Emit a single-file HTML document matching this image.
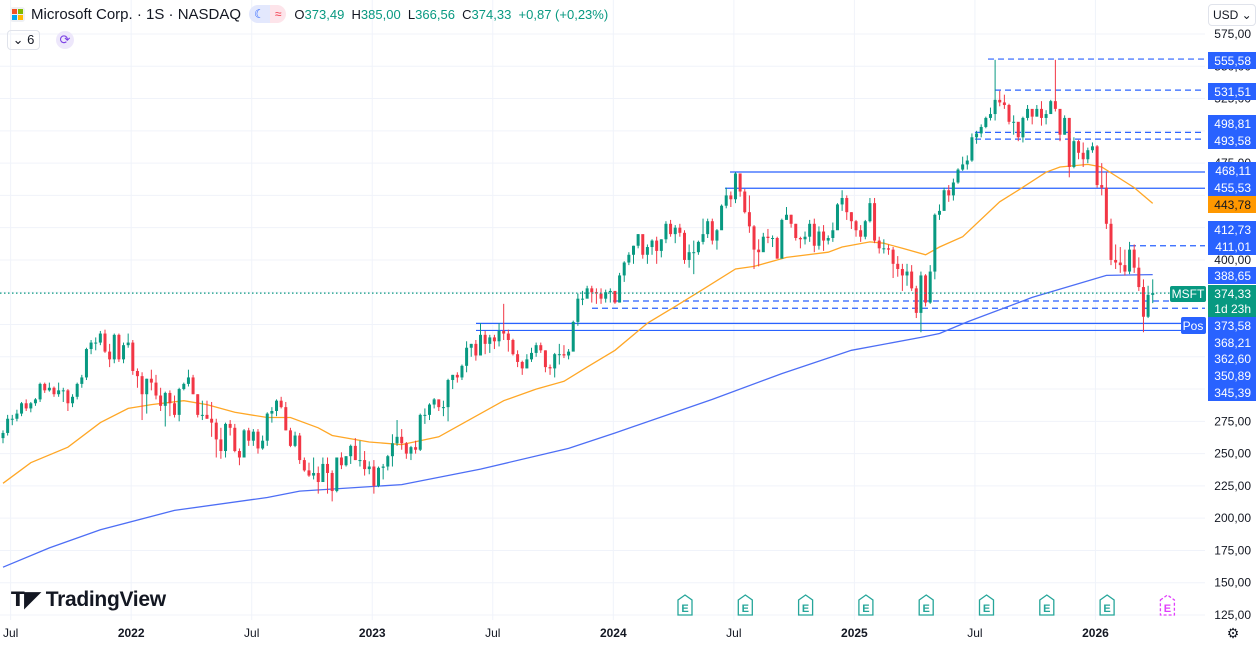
<!DOCTYPE html>
<html><head><meta charset="utf-8">
<style>
html,body{margin:0;padding:0;background:#fff;width:1260px;height:645px;overflow:hidden;font-family:"Liberation Sans",sans-serif;}
#wrap{position:relative;width:1260px;height:645px;}
svg{position:absolute;left:0;top:0;}
.hdr{position:absolute;left:10px;top:5px;font-size:14px;color:#131722;display:flex;align-items:center;white-space:nowrap;}
.ohlc{font-size:13px;margin-left:8px;color:#131722}
.ohlc b{font-weight:normal;color:#089981}
</style></head><body>
<div id="wrap">
<svg id="chart" width="1260" height="645"></svg>
<div class="hdr">
  <span style="display:inline-grid;grid-template-columns:5px 5px;gap:1px;background:#eef0f4;padding:2px;border-radius:3px;margin-right:6px"><i style="width:5px;height:5px;background:#f25022"></i><i style="width:5px;height:5px;background:#7fba00"></i><i style="width:5px;height:5px;background:#00a4ef"></i><i style="width:5px;height:5px;background:#ffb900"></i></span>
  <span style="font-size:15px">Microsoft Corp. · 1S · NASDAQ</span>
  <span style="margin-left:8px;display:inline-flex;border-radius:9px;overflow:hidden;height:18px;font-size:12px"><span style="background:#e3e8fd;color:#2962ff;padding:0 5px;line-height:18px">☾</span><span style="background:#fde4ea;color:#f23645;padding:0 5px;line-height:18px">≈</span></span>
  <span class="ohlc">O<b>373,49</b>&nbsp; H<b>385,00</b>&nbsp; L<b>366,56</b>&nbsp; C<b>374,33</b>&nbsp; <b>+0,87 (+0,23%)</b></span>
</div>
<div style="position:absolute;left:7px;top:30px;width:31px;height:18px;border:1px solid #e0e3eb;border-radius:4px;font-size:13px;line-height:18px;text-align:center;color:#131722">⌄ 6</div>
<div style="position:absolute;left:56px;top:31px;width:18px;height:18px;border-radius:9px;background:#ede7fb;color:#7b3fe4;font-size:13px;line-height:18px;text-align:center">⟳</div>
<div style="position:absolute;left:1208px;top:4px;width:42px;height:20px;border:1px solid #e0e3eb;border-radius:4px;font-size:12px;line-height:20px;color:#131722;padding-left:4px;background:#fff">USD ⌄</div>
<div style="position:absolute;left:11px;top:587px;font-size:21px;font-weight:bold;color:#131722;letter-spacing:-0.3px"><span style="font-size:20px">𝗧</span>◤ TradingView</div>
</div>
<script>
const C=[266,277,277,281,289,285,289,292,304,299,301,296,299,299,289,294,304,309,331,336,336,343,329,323,342,323,334,336,
314,310,296,308,305,295,287,297,289,280,300,304,309,296,280,280,277,274,261,252,273,270,252,247,268,260,267,254,260,281,283,291,286,268,256,264,245,237,233,235,228,242,235,221,247,241,248,256,245,245,238,240,
225,239,240,248,258,263,258,250,255,253,280,280,288,292,286,286,307,311,309,318,332,335,326,342,335,340,337,345,343,338,327,321,316,323,328,334,330,317,316,327,327,326,329,352,370,370,378,375,374,370,375,376,
367,388,398,404,411,420,404,410,415,407,416,428,420,425,421,400,406,406,414,420,430,415,423,442,450,447,467,453,437,426,408,406,418,417,417,401,431,435,428,417,416,418,428,411,422,415,417,423,443,448,437,430,
423,418,430,444,415,409,409,408,397,393,388,391,378,359,388,367,391,435,438,454,450,460,470,474,477,495,498,503,510,513,524,522,520,507,507,495,510,517,511,517,510,513,523,517,497,510,472,492,483,478,485,488,
458,456,428,400,398,396,391,408,394,379,356,373,374.33];
const H=[268,280,280,284,290,292,290,293,305,305,305,302,305,301,300,296,305,311,332,338,340,345,346,335,343,343,336,343,
338,316,313,308,315,311,301,298,299,295,301,305,315,311,296,291,291,290,277,270,274,276,273,254,269,270,269,269,264,282,286,292,294,290,270,267,266,247,243,247,240,247,247,237,247,251,248,257,262,260,252,244,
245,240,242,249,265,276,269,259,256,260,281,285,289,293,292,291,308,311,313,319,337,335,338,351,345,342,342,351,366,346,339,330,322,327,332,336,336,330,319,328,335,334,331,353,374,376,380,380,378,378,377,378,
376,390,399,406,411,420,416,412,416,418,416,430,431,427,428,423,412,415,415,432,432,432,424,443,456,453,468,467,455,450,427,416,421,424,419,418,432,441,435,428,418,422,431,432,426,427,419,429,444,454,450,437,
431,427,431,448,448,418,416,412,410,403,397,397,396,380,391,389,396,436,443,456,458,463,471,480,481,498,500,505,511,518,555,531,528,521,512,500,511,520,513,520,523,516,524,555,514,512,510,495,493,491,487,491,
489,475,468,432,412,410,408,414,412,402,385,380,385];
const L=[258,264,272,275,279,283,282,287,290,297,298,294,294,290,283,286,292,301,307,327,330,334,328,317,320,321,320,332,
311,301,276,281,299,292,283,271,279,278,275,299,302,296,278,276,277,263,247,246,247,264,251,241,247,256,256,250,253,256,274,279,285,268,255,255,242,236,232,230,219,228,219,213,220,238,240,242,245,240,233,234,
219,224,230,237,240,256,253,246,245,250,252,273,276,285,283,279,275,300,305,307,313,325,322,326,327,328,331,333,338,329,326,317,311,316,321,325,328,313,311,309,319,324,323,330,349,365,371,367,366,366,367,367,
366,367,383,396,397,409,401,397,404,397,402,413,418,413,418,397,394,389,404,412,417,412,408,425,440,441,444,449,436,421,393,395,410,413,410,401,403,432,425,415,409,412,414,406,408,407,412,414,426,438,431,424,
418,414,416,429,413,405,405,404,386,387,376,380,376,355,344,364,366,385,431,439,445,446,459,469,470,476,490,495,502,508,508,519,517,505,497,492,491,508,505,511,504,505,515,515,492,497,464,471,478,472,475,483,
456,450,424,396,393,390,388,389,390,376,344,355,366.56];
const firstOpen=262;
const maSlowIdx=[0,6,14,21,27,32,39,44,50,57,62,68,71,79,86,94,100,108,115,121,126,132,139,145,150,158,162,169,178,181,187,190,194,199,202,207,215,219,225,228,234,237,244,248];
const maSlowVal=[227,243,255,274,285,288,291,288,282,278,278,270,264,259,257,263,275,291,300,306,317,330,351,364,375,393,395,402,406,410,414,413,409,404,410,418,445,454,468,472,474,472,456,443.78];
const ma200Idx=[0,10,21,37,57,64,86,103,122,132,153,168,183,198,202,208,222,238,248];
const ma200Val=[162,177,191,206,216,221,226,238,254,266,292,312,330,340,343,352,371,388,388.65];
const axisTicks=[125,150,175,200,225,250,275,300,325,350,375,400,425,450,475,500,525,550,575];
const timeLabels=["Jul","2022","Jul","2023","Jul","2024","Jul","2025","Jul","2026"];
const timeIdx=[1,27,53,79,105,131,157,183,209,235];
const earnIdx=[146,160,173,186,199,212,225,238,251];

const svg=document.getElementById('chart');const NS='http://www.w3.org/2000/svg';
const yS=p=>615-(p-125)*1.2911;
const xS=i=>3+i*4.636;
function mk(t,a,parent){const e=document.createElementNS(NS,t);for(const k in a)e.setAttribute(k,a[k]);(parent||svg).appendChild(e);return e;}
// grid
axisTicks.forEach(v=>{const g=mk('line',{x1:0,x2:1205,y1:yS(v),y2:yS(v),stroke:'#f0f3fa'});

});
timeIdx.forEach(i=>{const g=mk('line',{x1:xS(i)+3,x2:xS(i)+3,y1:0,y2:620,stroke:'#f0f3fa'});

});
// level lines
const lv=[[555.58,988,1,'#2962ff'],[531.51,995,1,'#2962ff'],[498.81,975,1,'#2962ff'],[493.58,975,1,'#2962ff'],[411.01,1130,1,'#2962ff'],[368.21,613,1,'#2962ff'],[362.60,592,1,'#2962ff'],[468.11,730,0,'#2962ff'],[455.53,725,0,'#2962ff'],[350.89,476,0,'#2962ff'],[345.39,476,0,'#2962ff']];
lv.forEach(([p,x,d,c])=>{const l=mk('line',{x1:x,x2:1205,y1:yS(p),y2:yS(p),stroke:c,'stroke-width':1.2,'stroke-dasharray':d?'6 4':'none'});

});
// MAs
function path(idx,val,color,name){let d='';idx.forEach((i,k)=>{d+=(k?'L':'M')+xS(i).toFixed(1)+' '+yS(val[k]).toFixed(1);});
const p=mk('path',{d:d,fill:'none',stroke:color,'stroke-width':1.3});

}
path(ma200Idx,ma200Val,'#4d6ef5','ma-200-line');
path(maSlowIdx,maSlowVal,'#ffa726','ma-50-line');
// candles
C.forEach((c,i)=>{const o=i?C[i-1]:firstOpen;const col=c>=o?'#089981':'#f23645';const x=xS(i);
const g=mk('g',{});


mk('line',{x1:x,x2:x,y1:yS(H[i]),y2:yS(L[i]),stroke:col,'stroke-width':1},g);
const t=yS(Math.max(o,c)),b=yS(Math.min(o,c));
mk('rect',{x:x-1.5,y:t,width:3,height:Math.max(1,b-t),fill:col},g);});
// last price dotted
const dl=mk('line',{x1:0,x2:1170,y1:yS(374.33),y2:yS(374.33),stroke:'#089981','stroke-width':1.3,'stroke-dasharray':'1.5 2.5'});


// axis tick labels
axisTicks.forEach(v=>{if([300,325,350,375,425,450,500].includes(v))return;const t=mk('text',{x:1251,y:yS(v)+4,'text-anchor':'end','font-size':12,fill:'#131722','font-family':'Liberation Sans'});t.textContent=v.toFixed(2).replace('.',',');

});
// price labels
const labs=[['555,58',52,'#2962ff'],['531,51',83,'#2962ff'],['498,81',115,'#2962ff'],['493,58',132,'#2962ff'],['468,11',162,'#2962ff'],['455,53',179,'#2962ff'],['443,78',196,'#ff9800'],['412,73',221,'#2962ff'],['411,01',238,'#2962ff'],['388,65',267,'#2962ff'],['373,58',317,'#2962ff'],['368,21',334,'#2962ff'],['362,60',350,'#2962ff'],['350,89',367,'#2962ff'],['345,39',384,'#2962ff']];
labs.forEach(([t,y,c])=>{const r=mk('rect',{x:1208,y:y,width:48,height:17,fill:c});


const tx=mk('text',{x:1251,y:y+13,'text-anchor':'end','font-size':12,fill:c==='#ff9800'?'#131722':'#fff','font-family':'Liberation Sans'});tx.textContent=t;});
const gr=mk('rect',{x:1208,y:285,width:48,height:32,fill:'#089981'});


let t1=mk('text',{x:1251,y:298,'text-anchor':'end','font-size':12,fill:'#fff','font-family':'Liberation Sans'});t1.textContent='374,33';
let t2=mk('text',{x:1251,y:313,'text-anchor':'end','font-size':12,fill:'#fff','font-family':'Liberation Sans'});t2.textContent='1d 23h';
const ms=mk('rect',{x:1170,y:286,width:36,height:16,rx:2,fill:'#089981'});


let t3=mk('text',{x:1188,y:298,'text-anchor':'middle','font-size':12,fill:'#fff','font-family':'Liberation Sans'});t3.textContent='MSFT';
const ps=mk('rect',{x:1181,y:317,width:25,height:17,rx:2,fill:'#2962ff'});


let t4=mk('text',{x:1193,y:330,'text-anchor':'middle','font-size':12,fill:'#fff','font-family':'Liberation Sans'});t4.textContent='Pos';
// time labels
timeLabels.forEach((s,k)=>{const t=mk('text',{x:xS(timeIdx[k])+3,y:637,'text-anchor':'middle','font-size':12,fill:'#131722','font-family':'Liberation Sans','font-weight':s.length===4?'bold':'normal'});t.textContent=s;

});
// earnings
earnIdx.forEach((i,k)=>{const x=685+k*60.3;const last=k===earnIdx.length-1;const col=last?'#e040fb':'#26a69a';
const g=mk('g',{});


mk('path',{d:`M${x-7} ${600}L${x} ${595}L${x+7} ${600}L${x+7} ${615}L${x-7} ${615}Z`,fill:'#fff',stroke:col,'stroke-width':1.3,'stroke-dasharray':last?'3 2':'none'},g);
const t=mk('text',{x:x,y:612,'text-anchor':'middle','font-size':11,'font-weight':'bold',fill:col,'font-family':'Liberation Sans'},g);t.textContent='E';});
const gear=mk('text',{x:1233,y:638,'text-anchor':'middle','font-size':14,fill:'#131722'});gear.textContent='⚙';


</script>
</body></html>
